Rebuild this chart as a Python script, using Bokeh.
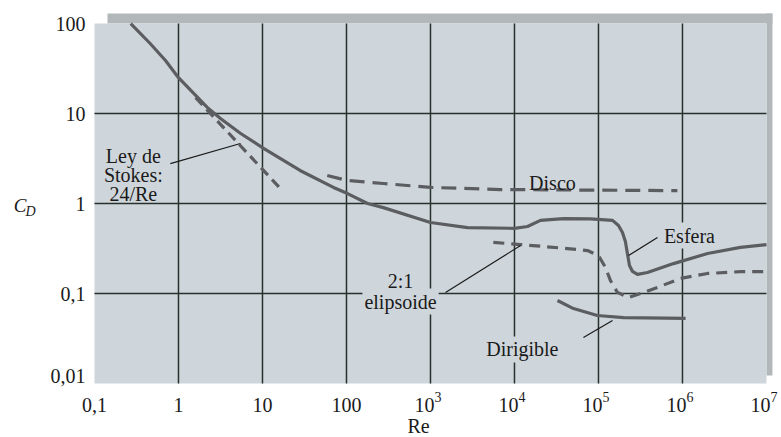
from bokeh.plotting import figure
from bokeh.models import Label, Range1d
from bokeh.embed import file_html
from bokeh.resources import INLINE

# ---------------- data ----------------
x_ticks = [0.1, 1, 10, 100, 1000, 10000, 100000, 1000000, 10000000]
x_tick_labels = ["0,1", "1", "10", "100", "10", "10", "10", "10", "10"]
x_tick_exponents = ["", "", "", "", "3", "4", "5", "6", "7"]
y_ticks = [0.01, 0.1, 1, 10, 100]
y_tick_labels = ["0,01", "0,1", "1", "10", "100"]

esfera_re = [0.27, 0.46, 0.70, 1, 2.2, 3.16, 5.5, 10.3, 28, 70, 103, 178, 275,
             1000, 2760, 10000, 14300, 20400, 38300, 80000, 147000, 173000,
             193000, 209000, 221000, 234000, 254000, 291000, 383000, 782000,
             1.99e6, 4.9e6, 1e7]
esfera_cd = [100, 60, 38.8, 25, 11.7, 8.8, 6.0, 4.1, 2.33, 1.51, 1.29, 1.0, 0.90,
             0.615, 0.54, 0.53, 0.555, 0.65, 0.68, 0.675, 0.65, 0.57,
             0.476, 0.378, 0.278, 0.205, 0.176, 0.163, 0.171, 0.215,
             0.278, 0.325, 0.35]

elipsoide_re = [5600, 11800, 42700, 74000, 100000, 121000, 139000, 168000,
                228000, 316000, 504000, 946000, 1.99e6, 4.9e6, 1e7]
elipsoide_cd = [0.37, 0.35, 0.316, 0.30, 0.264, 0.195, 0.139, 0.103,
                0.090, 0.10, 0.117, 0.147, 0.167, 0.175, 0.175]

dirigible_re = [32500, 50400, 97000, 199000, 1.09e6]
dirigible_cd = [0.0836, 0.068, 0.057, 0.054, 0.053]

disco_re = [59, 103, 275, 1000, 6800, 870000]
disco_cd = [2.05, 1.80, 1.67, 1.51, 1.43, 1.39]

stokes_re = [1.6, 17]
stokes_cd = [15.0, 1.41]

# leader lines (from label to curve)
leader_re = [[0.80, 5.47], [504000, 228000], [1510, 11800], [66200, 147000]]
leader_cd = [[2.78, 4.64], [0.419, 0.264], [0.1026, 0.341], [0.0324, 0.050]]

# ---------------- styles ----------------
FONT = "Liberation Serif"
BG = "#cfd6db"
SHADOW = "#b2b7ba"
GRID = "#28302c"
CURVE = "#5c5d60"
TEXT = "#1a1a1a"

# px per decade: 84 horizontally, 90 vertically; the frame spans the whole canvas
p = figure(width=780, height=436, x_axis_type="log", y_axis_type="log",
           x_range=Range1d(10 ** -2.119, 10 ** 7.167),
           y_range=Range1d(10 ** -2.589, 10 ** 2.256),
           output_backend="svg", toolbar_location=None,
           min_border_left=0, min_border_right=0, min_border_top=0,
           min_border_bottom=0)
p.background_fill_color = "white"
p.border_fill_color = "white"
p.outline_line_color = None
p.grid.visible = False
p.axis.visible = False

# shadow strips and plot area
sh_right = 10 ** 7.071
sh_top = 10 ** 2.111
p.quad(left=[10 ** -0.845], right=[sh_right], bottom=[y_ticks[-1]], top=[sh_top],
       fill_color=SHADOW, line_color=None)
p.quad(left=[x_ticks[-1]], right=[sh_right], bottom=[10 ** -1.911], top=[sh_top],
       fill_color=SHADOW, line_color=None)
p.quad(left=[x_ticks[0]], right=[x_ticks[-1]], bottom=[y_ticks[0]], top=[y_ticks[-1]],
       fill_color=BG, line_color=None)

# grid lines
gx = x_ticks[1:-1]
p.segment(x0=gx, x1=gx, y0=[y_ticks[0]] * len(gx), y1=[y_ticks[-1]] * len(gx),
          line_color=GRID, line_width=1.5)
gy = y_ticks[1:-1]
p.segment(x0=[x_ticks[0]] * len(gy), x1=[x_ticks[-1]] * len(gy), y0=gy, y1=gy,
          line_color=GRID, line_width=1.5)

# curves
p.line(esfera_re, esfera_cd, line_color=CURVE, line_width=3.2, line_join="round")
p.line(elipsoide_re, elipsoide_cd, line_color=CURVE, line_width=3.2,
       line_dash="11 7")
p.line(dirigible_re, dirigible_cd, line_color=CURVE, line_width=3.2, line_join="round")
p.line(disco_re, disco_cd, line_color=CURVE, line_width=3.2, line_dash="15 8")
p.line(stokes_re, stokes_cd, line_color=CURVE, line_width=3.2, line_dash="10 6")

p.multi_line(leader_re, leader_cd, line_color=TEXT, line_width=1.2)


def add_text(txt, x, y, size="20px", style="normal", align="center", bg=None,
             x_offset=0, y_offset=0, baseline="alphabetic"):
    kw = {}
    if bg is not None:
        kw = dict(background_fill_color=bg, padding=2)
    p.add_layout(Label(x=x, y=y, text=txt, text_font=FONT, text_font_size=size,
                       text_font_style=style, text_color=TEXT, text_align=align,
                       text_baseline=baseline, x_offset=x_offset,
                       y_offset=y_offset, **kw))


# tick labels
for xv, base, ex in zip(x_ticks, x_tick_labels, x_tick_exponents):
    if ex:
        add_text(base, xv, y_ticks[0], align="right", x_offset=4, y_offset=-22)
        add_text(ex, xv, y_ticks[0], size="14px", align="left", x_offset=4,
                 y_offset=-14)
    else:
        add_text(base, xv, y_ticks[0], y_offset=-22)
for yv, lab in zip(y_ticks, y_tick_labels):
    add_text(lab, x_ticks[0], yv, align="right", x_offset=-9, baseline="middle",
             y_offset=(7 if yv == y_ticks[0] else 0))

# annotations
add_text("Ley de", 0.29, 3.41)
add_text("Stokes:", 0.29, 2.10)
add_text("24/Re", 0.29, 1.26)
add_text("Disco", 28300, 1.71)
add_text("Esfera", 1.21e6, 0.44, bg=BG)
add_text("elipsoide", 440, 0.0815, bg=BG)
add_text("2:1", 440, 0.136)
add_text("Dirigible", 12400, 0.0239, bg=BG)

# axis titles
add_text("Re", 720, y_ticks[0], y_offset=-43)
add_text("C", 0.0109, 0.95, size="19px", style="italic", align="left")
add_text("D", 0.0151, 0.81, size="14px", style="italic", align="left")

open("out.html", "w").write(file_html(p, INLINE))
